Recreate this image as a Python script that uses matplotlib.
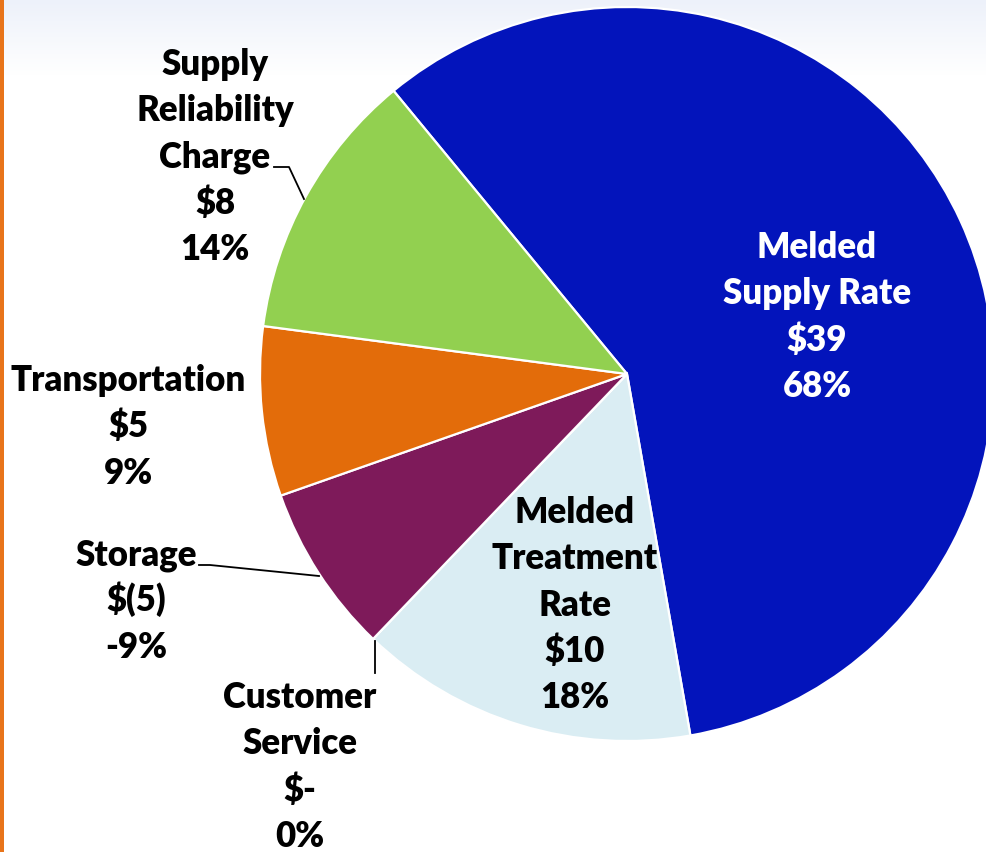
import numpy as np
import matplotlib
matplotlib.use("Agg")
import matplotlib.pyplot as plt
from matplotlib.colors import LinearSegmentedColormap

# ---- data ----
categories = ["Melded\nSupply Rate", "Melded\nTreatment\nRate", "Customer\nService",
              "Storage", "Transportation", "Supply\nReliability\nCharge"]
values = [39, 10, 0, -5, 5, 8]
colors = ["#0314BB", "#DAEDF3", "#FFFFFF", "#7E1A5A", "#E36C0A", "#92D050"]
text_colors = ["white", "black", "black", "black", "black", "black"]

W, H = 986, 852
fig = plt.figure(figsize=(W / 100, H / 100), dpi=100)
ax = fig.add_axes([0, 0, 1, 1])

# background gradient at top
grad = np.linspace(0, 1, 256).reshape(-1, 1)
cmap = LinearSegmentedColormap.from_list("bg", ["#EDF1FA", "#FFFFFF"])
ax.imshow(grad, extent=[0, W, H - 75, H], cmap=cmap, aspect="auto", zorder=0, origin="upper")

cx, cy, R = 627, H - 374, 367
sizes = [abs(v) for v in values]
wedges, _ = ax.pie(sizes, colors=colors, startangle=129.5, counterclock=False,
                   center=(cx, cy), radius=R,
                   wedgeprops=dict(edgecolor="white", linewidth=1.6))
for w in wedges:
    w.set_zorder(2)

total = sum(values)

def money(v):
    if v > 0:
        return f"${v}"
    if v < 0:
        return f"$({-v})"
    return "$-"

labels = [f"{c}\n{money(v)}\n{round(v / total * 100):.0f}%" for c, v in zip(categories, values)]

# first-line baseline positions (pixels from top) and centres
label_pos = [(817, 258), (575, 523), (300, 708), (136, 565), (128, 391), (215, 75)]
step = 46.3
for lab, (x, y), tc in zip(labels, label_pos, text_colors):
    for i, line in enumerate(lab.split("\n")):
        ax.text(x, H - (y + i * step), line, ha="center", va="baseline",
                fontsize=25, fontweight="heavy", family="Lato", color=tc, zorder=5)

# leader lines
ax.plot([274, 289, 304], [H - 167, H - 167, H - 199], color="black", lw=1.3, zorder=4)
ax.plot([199, 210, 319], [H - 565, H - 565, H - 576], color="black", lw=1.3, zorder=4)
ax.plot([375, 375], [H - 641, H - 673], color="black", lw=1.3, zorder=4)

# orange accent bar on the left
ax.fill_between([0, 3.5], 0, H, color="#E8741A", zorder=6, lw=0)

ax.set_xlim(0, W)
ax.set_ylim(0, H)
ax.set_aspect("auto")
ax.axis("off")
fig.savefig("out.png", dpi=100)
